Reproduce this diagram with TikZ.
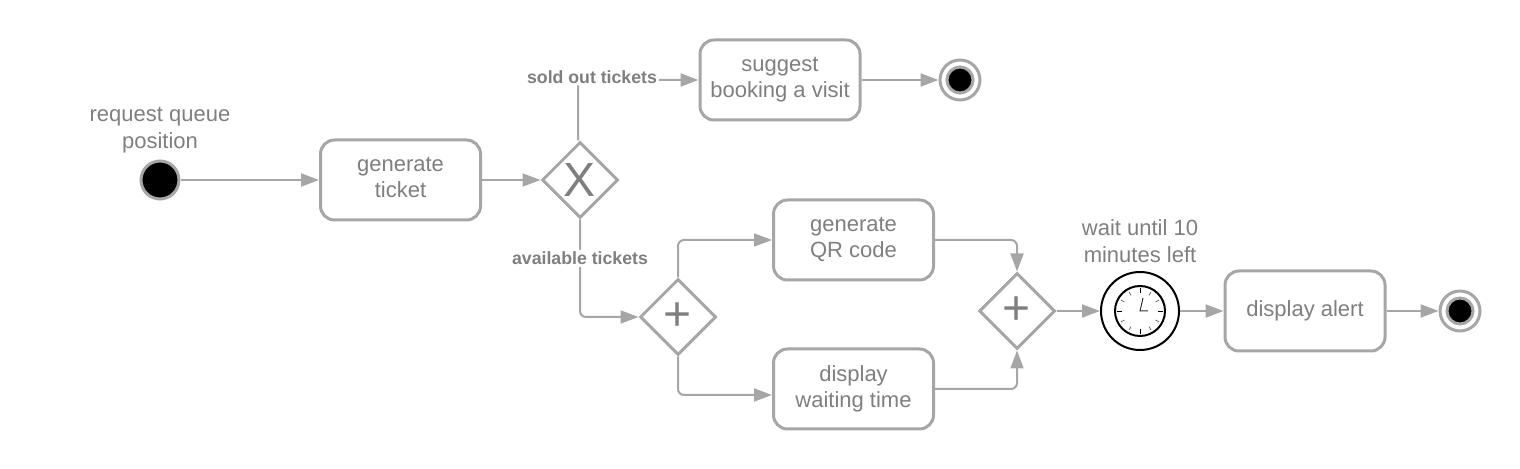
\documentclass[tikz,border=0pt]{standalone}
\usepackage{xcolor}
\usepackage{fontspec}
\setmainfont{Liberation Sans}
\usetikzlibrary{shapes.geometric,arrows.meta}
\definecolor{flowline}{HTML}{A6A6A6}
\definecolor{flowtext}{HTML}{7F7F7F}

\tikzset{
  taskbox/.style={draw=flowline, line width=1.5pt, rounded corners=7pt, fill=white,
    minimum width=80pt, minimum height=40pt, align=center, text=flowtext, text depth=2.5pt,
    font=\fontsize{11}{13.25}\selectfont},
  gateway/.style={draw=flowline, line width=1.5pt, diamond, aspect=1, inner sep=0pt,
    minimum size=38pt, text=flowtext, fill=white},
  startevent/.style={draw=flowline, line width=1.5pt, fill=black, circle, inner sep=0pt, minimum size=19pt},
  endring/.style={draw=flowline, line width=1.5pt, fill=white, circle, inner sep=0pt, minimum size=20pt},
  enddot/.style={draw=flowline, line width=1.5pt, fill=black, circle, inner sep=0pt, minimum size=13pt},
  timering/.style={draw=black, line width=1pt, fill=white, circle, inner sep=0pt},
  evtext/.style={align=center, text=flowtext, font=\fontsize{11}{13.25}\selectfont},
  flowlabel/.style={fill=white, inner sep=1pt, text=flowtext, font=\fontsize{8.85}{10}\selectfont\bfseries},
  flow/.style={draw=flowline, line width=1pt, rounded corners=3pt, -{Triangle[length=9pt,width=6.5pt]}}
}

\begin{document}
\begin{tikzpicture}[x=0.5pt, y=-0.5pt]
  \useasboundingbox (0,0) rectangle (1520,469);

  % events and tasks
  \node[startevent] (start) at (160,180) {};
  \node[evtext, font=\fontsize{11}{13.5}\selectfont] (starttext) at (160,130) {request queue\\position};
  \node[taskbox] (ticket) at (400.5,180) {generate\\ticket};
  \node[gateway, font=\fontsize{24}{24}\selectfont] (soldout) at (580,180) {X};
  \node[taskbox] (suggest) at (780,80) {suggest\\booking a visit};
  \node[endring] (endtop) at (960,80) {};
  \node[enddot] (endtopdot) at (960,80) {};
  \node[gateway, font=\fontsize{24}{24}\selectfont] (split) at (678,317) {+};
  \node[taskbox] (qrcode) at (853.5,240) {generate\\QR code};
  \node[taskbox] (waiting) at (853.5,389) {display\\waiting time};
  \node[gateway, font=\fontsize{24}{24}\selectfont] (join) at (1017,311) {+};
  \node[timering, minimum size=39pt] (timer) at (1140,311) {};
  \node[timering, minimum size=25pt] (clock) at (1140,311) {};
  \node[evtext] (timertext) at (1140,241) {wait until 10\\minutes left};
  \node[taskbox] (alert) at (1305,311) {display alert};
  \node[endring] (endlow) at (1460,311) {};
  \node[enddot] (endlowdot) at (1460,311) {};

  % clock face
  \foreach \a in {30,60,120,150,210,240,300,330}
    \draw[black!70, line width=0.3pt] (clock.center) ++(\a:18) -- ++(\a:4);
  \foreach \a in {0,90,180,270}
    \draw[black, line width=0.4pt] (clock.center) ++(\a:18) -- ++(\a:5);
  \draw[black!80, line width=0.5pt] (1143,298) -- (clock.center) -- (1148,311);

  % connectors
  \draw[flow] (start) -- (ticket);
  \draw[flow] (ticket) -- (soldout);
  \draw[flow] ([xshift=-1pt]soldout.north) |- (suggest.west)
    node[flowlabel, pos=0.5, anchor=center, xshift=7pt, yshift=1.5pt] (soldtext) {sold out tickets};
  \draw[flow] (suggest) -- (endtop);
  \draw[flow] (soldout.south) |- (split.west)
    node[flowlabel, pos=0.2] (availtext) {available tickets};
  \draw[flow] (split.north) |- (qrcode.west);
  \draw[flow] (split.south) |- ([yshift=-3pt]waiting.west);
  \draw[flow] (qrcode.east) -| (join.north);
  \draw[flow] (waiting.east) -| (join.south);
  \draw[flow] (join) -- (timer);
  \draw[flow] (timer) -- (alert);
  \draw[flow] (alert) -- (endlow);
\end{tikzpicture}
\end{document}
